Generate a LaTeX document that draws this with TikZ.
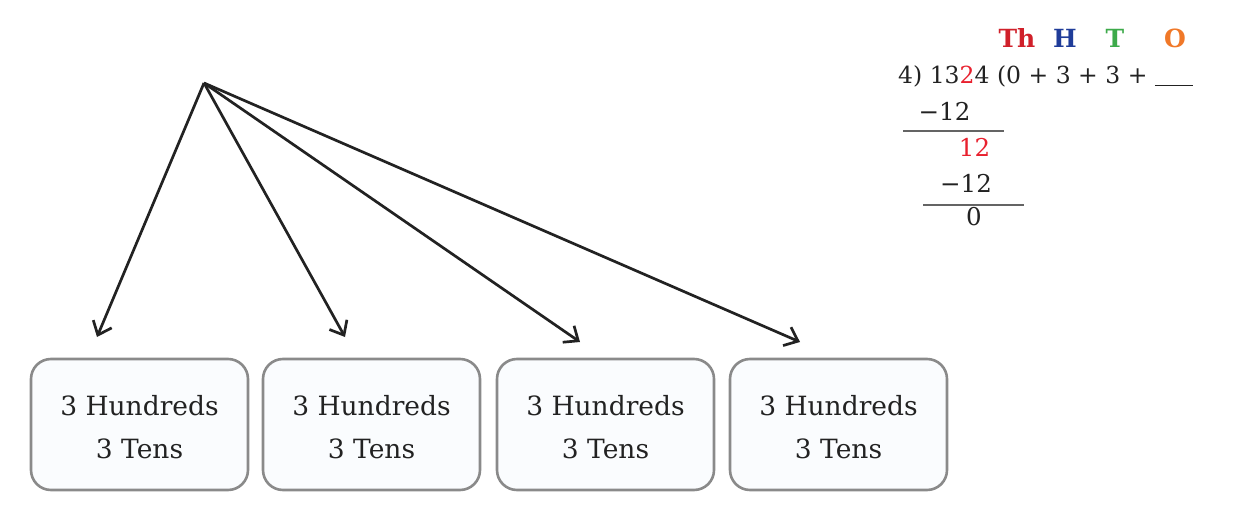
\documentclass[tikz,border=0pt]{standalone}
\usepackage{fontspec}
\setmainfont{DejaVu Serif}
\usetikzlibrary{arrows.meta}
\definecolor{thred}{HTML}{D0202A}
\definecolor{hblue}{HTML}{1F3C99}
\definecolor{tgreen}{HTML}{3DAA4A}
\definecolor{oorange}{HTML}{F07828}
\definecolor{digred}{HTML}{E8202E}
\definecolor{boxfill}{HTML}{FAFCFE}
\definecolor{boxline}{HTML}{8A8A8A}
\definecolor{ink}{HTML}{222222}
\tikzset{
  card/.style={draw=boxline, line width=2.6pt, fill=boxfill, rounded corners=20pt,
    minimum width=217pt, minimum height=131pt, inner sep=0pt},
  cardtext/.style={align=center, inner sep=0pt, yshift=-3pt,
    font=\fontsize{26.5}{43}\selectfont, text=ink},
  branch/.style={draw=ink, line width=2.7pt, -{Straight Barb[length=12pt,width=20pt,line width=2.7pt]}},
  place/.style={font=\fontsize{25}{28}\selectfont\bfseries, inner sep=0pt},
  sumtxt/.style={font=\fontsize{24.5}{28}\selectfont, text=ink, inner sep=0pt},
  rule/.style={draw=ink!70, line width=2.6pt}
}
\begin{document}
\begin{tikzpicture}[x=1pt,y=-1pt]
\useasboundingbox (0,0) rectangle (1234,508);
% boxes
\node[card, label={[cardtext]center:3 Hundreds\\3 Tens}] (b1) at (139.5,424.5) {};
\node[card, label={[cardtext]center:3 Hundreds\\3 Tens}] (b2) at (371.5,424.5) {};
\node[card, label={[cardtext]center:3 Hundreds\\3 Tens}] (b3) at (605.5,424.5) {};
\node[card, label={[cardtext]center:3 Hundreds\\3 Tens}] (b4) at (838.5,424.5) {};
% apex and arrows
\coordinate (apex) at (204,83);
\coordinate (t1) at (97,337);
\coordinate (t2) at (345,337);
\coordinate (t3) at (580,342);
\coordinate (t4) at (800,342);
\draw[branch] (apex) -- (t1);
\draw[branch] (apex) -- (t2);
\draw[branch] (apex) -- (t3);
\draw[branch] (apex) -- (t4);
% place value headings
\node[place, text=thred] (th) at (1017,38) {Th};
\node[place, text=hblue] (h) at (1065,38) {H};
\node[place, text=tgreen] (t) at (1115,38) {T};
\node[place, text=oorange] (o) at (1175,38) {O};
% division
\node[sumtxt, anchor=west, font=\fontsize{23.5}{28}\selectfont] (l1) at (898,76) {4) 13\textcolor{digred}{2}4 (0 + 3 + 3 + \rule[-3pt]{38pt}{1.4pt}};
\node[sumtxt] (l2) at (944.5,111) {−12};
\node[sumtxt, text=digred] (l3) at (974.5,147) {12};
\node[sumtxt] (l4) at (966,183) {−12};
\node[sumtxt] (l5) at (974,217) {0};
\coordinate (r1a) at (903,131);
\coordinate (r1b) at (1004,131);
\coordinate (r2a) at (923,205);
\coordinate (r2b) at (1024,205);
\draw[rule] (r1a) -- (r1b);
\draw[rule] (r2a) -- (r2b);
\end{tikzpicture}
\end{document}
